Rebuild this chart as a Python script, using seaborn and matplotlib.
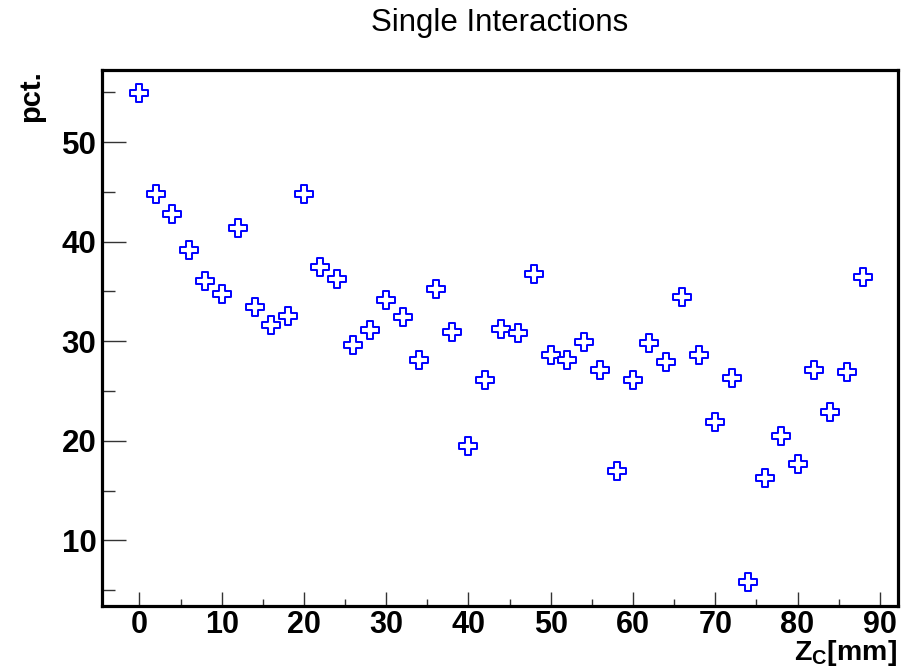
import matplotlib
matplotlib.use("Agg")
import matplotlib.pyplot as plt
import seaborn as sns
import numpy as np
import pandas as pd
from matplotlib.ticker import MultipleLocator

# Data
z_mm = [0, 2, 4, 6, 8, 10, 12, 14, 16, 18, 20, 22, 24, 26, 28, 30, 32, 34, 36, 38,
        40, 42, 44, 46, 48, 50, 52, 54, 56, 58, 60, 62, 64, 66, 68, 70, 72, 74, 76, 78,
        80, 82, 84, 86, 88]
pct = [54.9, 44.8, 42.8, 39.2, 36.0, 34.7, 41.4, 33.4, 31.6, 32.5,
       44.8, 37.5, 36.2, 29.6, 31.1, 34.1, 32.4, 28.1, 35.2, 30.9,
       19.5, 26.1, 31.2, 30.8, 36.7, 28.6, 28.1, 29.9, 27.1, 17.0,
       26.1, 29.8, 27.9, 34.4, 28.6, 21.9, 26.3, 5.8, 16.3, 20.5,
       17.7, 27.1, 22.9, 26.9, 36.4]
title = "Single Interactions"
xlabel = "Z$_{\\mathregular{C}}$[mm]"
ylabel = "pct."

df = pd.DataFrame({"z": z_mm, "pct": pct})

sns.set_theme(style="white")
plt.rcParams['font.family'] = ['Liberation Sans', 'DejaVu Sans']
plt.rcParams['text.color'] = 'black'
plt.rcParams['xtick.color'] = 'black'
plt.rcParams['ytick.color'] = 'black'
plt.rcParams['mathtext.fontset'] = 'custom'
plt.rcParams['mathtext.rm'] = 'Liberation Sans:bold'
plt.rcParams['mathtext.it'] = 'Liberation Sans:bold'
plt.rcParams['mathtext.bf'] = 'Liberation Sans:bold'

fig = plt.figure(figsize=(9.01, 6.70), dpi=100)
ax = fig.add_axes([102/901, 1 - 606/670, (897.5 - 102)/901, (606 - 70)/670])

sns.scatterplot(data=df, x="z", y="pct", marker="P", s=150, color="white",
                edgecolor="#0000ff", linewidth=1.4, ax=ax, zorder=3)

ax.set_xlim(-4.55, 92.15)
ax.set_ylim(3.4, 57.24)
ax.xaxis.set_major_locator(MultipleLocator(10))
ax.xaxis.set_minor_locator(MultipleLocator(5))
ax.yaxis.set_major_locator(MultipleLocator(10))
ax.yaxis.set_minor_locator(MultipleLocator(5))
ax.set_yticks([10, 20, 30, 40, 50])

for side in ["left", "bottom", "right", "top"]:
    ax.spines[side].set_visible(True)
    ax.spines[side].set_color("black")
    ax.spines[side].set_linewidth(2.3)

ax.tick_params(axis="x", which="major", direction="in", length=10, width=1.0,
               color="#333333", labelcolor="black", bottom=True, top=False,
               labelsize=22, pad=3)
ax.tick_params(axis="x", which="minor", direction="in", length=5, width=1.0,
               color="#333333", bottom=True, top=False)
ax.tick_params(axis="y", which="major", direction="in", length=17, width=1.0,
               color="#333333", labelcolor="black", left=True, right=False,
               labelsize=22.5, pad=4)
ax.tick_params(axis="y", which="minor", direction="in", length=9, width=1.0,
               color="#333333", left=True, right=False)
for lab in ax.get_xticklabels() + ax.get_yticklabels():
    lab.set_fontweight("bold")

ax.set_xlabel("")
ax.set_ylabel("")
fig.text(897 / 901, 1 - 660 / 670, xlabel, ha="right", va="baseline",
         fontsize=20.5, fontweight="bold", color="black")
fig.text(31 / 901, 1 - 96 / 670, ylabel, ha="center", va="center",
         rotation=90, fontsize=21, fontweight="bold", color="black")
fig.text(500 / 901, 1 - 23 / 670, title, ha="center", va="center",
         fontsize=22.5, color="black")

fig.savefig("out.png", dpi=100, facecolor="white")
